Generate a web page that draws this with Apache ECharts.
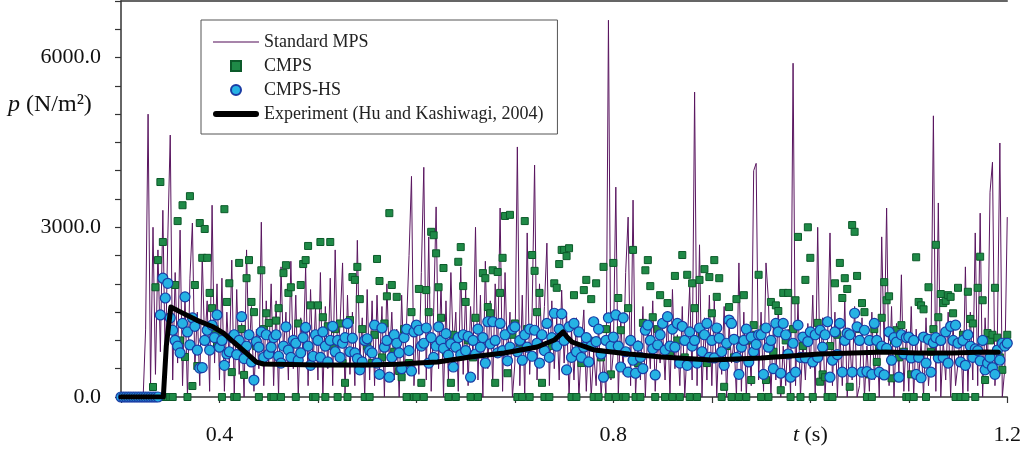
<!DOCTYPE html>
<html>
<head>
<meta charset="utf-8">
<script src="https://cdn.jsdelivr.net/npm/echarts@6/dist/echarts.min.js"></script>
<style>
  html, body { margin: 0; padding: 0; background: #fff; }
  #chart { width: 1024px; height: 452px; }
</style>
</head>
<body>
<div id="chart"></div>
<script>
// sampling of the simulated series: t = T0 + i * DT
const T0 = 0.3;
const DT = 0.0025;

// Standard MPS pressure (N/m2)
const mpsP = [
  0,0,0,0,0,0,0,0,0,0, 1200,5000,200,3000,400,2600,800,3300,500,2800,
  4630,300,2200,600,2950,200,1800,0,2100,3075, 500,1500,200,2500,900,1700,100,3390,600,2000,
  300,2100,100,1500,600,2420,0,1900,400,1300, 0,2600,700,1600,100,1200,500,3090,200,1700,
  600,2000,200,1700,0,2300,800,1500,300,2400, 500,1800,0,1400,700,2300,200,1900,500,1600,
  300,2200,0,1600,500,2100,200,2600,700,1300, 2370,0,1800,400,1500,200,2770,600,1400,0,
  1900,300,1700,200,1800,500,1600,0,2000,600, 1500,300,1200,0,1800,400,1300,2500,3900,200,
  1200,400,2200,4060,300,2830,100,1500,3360,500, 2000,0,1700,300,2200,800,1500,100,2300,400,
  1900,200,1600,700,3000,300,1800,0,2400,500, 1700,200,2000,700,3340,100,2200,600,1500,0,
  600,4420,200,1800,0,2900,400,1500,4100,300, 2000,800,1600,2720,200,1700,500,1400,300,1890,
  600,1500,0,1200,300,1400,0,900,1540,100, 1100,0,800,200,1300,0,700,0,6660,300,
  800,3710,0,1400,400,2200,3180,200,3480,0, 1000,300,1600,0,1300,500,1700,100,1000,600,
  1200,300,1500,0,1900,500,1100,200,1600,0, 900,1940,300,5390,200,2690,0,1400,300,1800,
  200,1700,0,1200,400,1600,0,1300,600,1000, 0,2370,100,1500,0,1200,200,4000,4130,300,
  1500,100,2370,1700,0,1300,300,1600,0,900, 200,1200,0,5900,200,1700,0,1000,300,1300,
  500,1800,0,3000,300,1400,0,1000,2900,200, 1500,0,1200,200,1700,0,1000,300,1600,0,
  200,1400,0,900,100,1500,300,1200,0,2830, 800,3340,200,1600,0,1300,400,2160,100,1200,
  100,1600,0,1200,300,1000,0,1400,200,800, 4970,100,3430,0,1000,300,1500,0,1300,200,
  600,1200,0,2300,100,1500,300,2900,200,3250, 0,1400,500,3620,4150,200,1100,4490,0,500,3180
];

// CMPS pressure (N/m2)
const cmpsP = [
  0,0,0,0,0,0,0,0,0,0, 0,0,0,177,1940,2420,3800,2740,0,0,
  0,0,1980,3110,1000,3390,707,0,3550,194, 1980,548,3075,2460,2970,2460,1840,1570,1200,900,
  1100,0,3320,1680,2010,440,0,0,2370,1200, 390,2100,2420,1680,1500,900,0,2240,1200,1480,
  1310,0,0,1350,1570,0,2190,2330,1840,1940, 1000,0,1300,1980,2350,2420,2670,1620,0,0,
  1620,2740,1410,0,1250,2740,900,1200,0,1300, 600,250,0,1360,2120,2070,2300,1730,1200,0,
  900,0,600,1100,2440,2050,700,1300,1780,3250, 1980,800,1770,460,350,1200,0,600,1500,0,
  0,1910,250,0,1890,1500,2920,2860,2540,1940, 1400,2280,800,0,250,1100,0,2390,2650,1960,
  1680,1000,0,700,1400,0,900,2190,2100,1590, 1480,2240,250,2210,1840,2460,3200,420,3220,1100,
  1300,0,900,0,3110,1200,0,2510,2230,1500, 1840,250,0,1300,0,900,2010,1930,2350,2600,
  2600,2490,2630,0,1800,0,1130,600,1890,2070, 1000,1730,0,2010,0,700,2300,1200,0,400,
  2370,0,1750,1180,0,0,1570,1000,2600,0, 600,0,1310,2240,2420,1960,1410,0,1200,1800,
  1300,0,1660,800,0,2140,1000,0,2510,700, 2160,0,2010,1570,0,2070,1100,2260,600,2120,
  1480,2420,1770,2100,0,180,900,1590,0,700, 1730,0,1000,1800,0,1000,300,1270,1100,2160,
  0,1200,300,0,1680,800,1620,1520,120,1840, 1000,1840,0,1200,1710,2830,0,900,2070,3000,
  2460,0,700,1310,270,400,350,0,900,0, 2010,1100,2370,1750,2100,1910,180,3040,2920,2140,
  1200,1660,1500,0,400,0,1200,620,900,1400, 2030,1710,1780,330,1000,1180,700,1270,800,0,
  0,400,0,2470,1680,1620,1550,0,1940,800, 1200,2690,1410,1820,1660,1700,1800,1770,1480,0,
  1930,0,1100,0,1860,1380,1300,0,1930,2480, 1710,300,1130,1000,1100,1930,1050,700,480,900,1100
];

// CMPS-HS pressure (N/m2)
const hsP = [
  0,0,0,0,0,0,0,0,0,0, 0,0,0,0,0,0,1450,2100,1750,2010,
  1400,1180,1000,900,780,1300,1770,1150,920,1400, 1250,830,510,520,1000,1180,830,1270,1050,1450,
  880,1000,560,760,800,1050,1100,750,1000,1420, 680,900,1100,620,300,980,880,1150,700,1100,
  760,880,1050,1100,720,600,900,1240,830,700, 1000,950,650,780,1050,1230,900,560,720,1100,
  1000,700,1150,900,620,1000,1250,800,1000,700, 950,1050,1300,800,1040,780,680,480,620,1000,
  1030,820,780,1270,600,400,1220,880,1000,350, 700,1100,950,780,500,1050,1200,820,460,1150,
  1270,1180,900,950,1220,600,1050,700,900,1240, 1000,860,1120,740,940,530,880,1050,750,1100,
  820,1070,350,1000,760,1200,880,1050,600,1330, 940,1330,1000,780,1300,820,1100,640,880,1200,
  1240,800,1000,650,1100,880,1200,720,1180,950, 600,1100,820,1300,700,1050,1480,900,1200,1470,
  1000,480,1240,700,1300,800,1150,700,880,1050, 620,900,1330,980,1200,760,350,1000,1400,900,
  1060,1450,900,530,1400,800,440,1000,650,420, 900,700,500,1180,1270,1000,850,390,920,1100,
  1300,830,1420,900,1200,880,1300,600,1250,1000, 560,1150,900,1000,600,1220,800,1100,1300,700,
  1000,690,1220,1040,800,560,950,1360,1300,1020, 700,400,880,1000,1200,620,1060,800,930,1100,
  1100,400,1220,880,1000,500,1300,1150,420,1300, 1100,760,350,950,440,1270,700,1060,690,980,
  1150,620,1100,700,1180,880,1100,1330,350,650, 1150,750,1300,440,1000,1130,1100,440,1480,1240,
  1000,440,1180,450,1000,400,1300,1000,440,900, 390,860,1150,650,1050,970,350,1100,760,1050,
  1060,690,1000,400,700,340,1060,600,1020,440, 960,1050,690,1000,700,1150,600,1250,1000,1270,
  950,620,1000,560,1100,900,700,850,820,640, 1000,480,600,700,520,400,830,650,950,900,950
];

// Experiment (Hu and Kashiwagi, 2004)
const expT = [0.300, 0.343, 0.346, 0.3506, 0.3607, 0.3768, 0.394, 0.4041, 0.4143, 0.4274,
  0.4375, 0.4446, 0.50, 0.55, 0.581, 0.601, 0.6215, 0.655, 0.689, 0.7226, 0.74, 0.749,
  0.753, 0.758, 0.781, 0.8157, 0.849, 0.8996, 0.950, 0.980, 1.009, 1.043, 1.0766, 1.11,
  1.144, 1.178, 1.191];
const expP = [0, 0, 900, 1590, 1500, 1360, 1237, 1131, 972, 777,
  618, 583, 565, 565, 580, 600, 620, 707, 777, 883, 1007, 1150,
  1060, 972, 830, 760, 707, 654, 689, 724, 760, 777, 795, 777,
  777, 795, 790];

const xLabelTicks = [0.4, 0.8, 1.2];
const xNameTick = 1.0;
const yLabelTicks = [0, 3000, 6000];

const FONT = "'Liberation Serif', 'Times New Roman', serif";

function pairs(vals) {
  return vals.map(function (v, i) { return [T0 + DT * i, v]; });
}
function near(a, b) { return Math.abs(a - b) < 1e-6; }

const chart = echarts.init(document.getElementById("chart"), null, { renderer: "canvas" });

const option = {
  animation: false,
  backgroundColor: "#fff",
  grid: { left: 121, right: 12, top: 1, bottom: 55 },
  legend: {
    orient: "vertical",
    left: 201,
    top: 20,
    padding: [13, 14, 11, 12],
    itemGap: 6,
    itemWidth: 46,
    itemHeight: 10,
    backgroundColor: "#fff",
    borderColor: "#555",
    borderWidth: 1,
    borderRadius: 0,
    textStyle: { fontFamily: FONT, fontSize: 18, color: "#222" },
    data: [
      { name: "Standard MPS", icon: "path://M0,0H46V1.6H0Z",
        itemStyle: { color: "#8a5b8e" } },
      { name: "CMPS", icon: "path://M0,0H10V10H0Z" },
      { name: "CMPS-HS", icon: "circle" },
      { name: "Experiment (Hu and Kashiwagi, 2004)",
        icon: "path://M3,0H43A3,3 0 0 1 43,6H3A3,3 0 0 1 3,0Z" }
    ]
  },
  xAxis: [
    {
      type: "value",
      min: 0.3,
      max: 1.2,
      interval: 0.1,
      splitLine: { show: false },
      axisLine: { show: true, onZero: false, lineStyle: { color: "#333", width: 1.5 } },
      axisTick: { show: true, inside: false, length: 6, lineStyle: { color: "#333", width: 1.2 } },
      axisLabel: {
        margin: 27,
        fontFamily: FONT,
        fontSize: 22,
        color: "#111",
        formatter: function (v) {
          for (const t of xLabelTicks) if (near(v, t)) return t.toFixed(1);
          if (near(v, xNameTick)) return "{i|t} (s)";
          return "";
        },
        rich: { i: { fontStyle: "italic", fontFamily: FONT, fontSize: 22, color: "#111" } }
      }
    },
    {
      type: "value",
      position: "top",
      min: 0.3,
      max: 1.2,
      axisLine: { show: true, onZero: false, lineStyle: { color: "#333", width: 1.5 } },
      axisTick: { show: false },
      axisLabel: { show: false },
      splitLine: { show: false }
    }
  ],
  yAxis: {
    type: "value",
    min: 0,
    max: 7000,
    interval: 500,
    splitLine: { show: false },
    axisLine: { show: true, onZero: false, lineStyle: { color: "#333", width: 1.5 } },
    axisTick: { show: true, inside: false, length: 6, lineStyle: { color: "#333", width: 1.2 } },
    axisLabel: {
      margin: 20,
      fontFamily: FONT,
      fontSize: 22,
      color: "#111",
      formatter: function (v) {
        for (const t of yLabelTicks) if (near(v, t)) return t.toFixed(1);
        return "";
      }
    }
  },
  graphic: [
    {
      type: "text",
      left: 8,
      top: 93,
      style: {
        text: "{i|p} (N/m²)",
        fontFamily: FONT,
        fontSize: 24,
        fill: "#111",
        rich: { i: { fontStyle: "italic", fontFamily: FONT, fontSize: 24, fill: "#111" } }
      }
    }
  ],
  series: [
    {
      name: "Standard MPS",
      type: "line",
      data: pairs(mpsP),
      showSymbol: false,
      symbol: "none",
      z: 2,
      lineStyle: { color: "#5a1660", width: 1 },
      itemStyle: { color: "#5a1660" }
    },
    {
      name: "CMPS",
      type: "scatter",
      data: pairs(cmpsP),
      symbol: "rect",
      symbolSize: 7,
      z: 3,
      itemStyle: { color: "#1f8a47", borderColor: "#0c5a2a", borderWidth: 1, opacity: 1 }
    },
    {
      name: "CMPS-HS",
      type: "scatter",
      data: pairs(hsP),
      symbol: "circle",
      symbolSize: 10,
      z: 4,
      itemStyle: { color: "#26b2e4", borderColor: "#1a3ca4", borderWidth: 1.2, opacity: 1 }
    },
    {
      name: "Experiment (Hu and Kashiwagi, 2004)",
      type: "line",
      data: expT.map(function (t, i) { return [t, expP[i]]; }),
      showSymbol: false,
      symbol: "none",
      z: 5,
      lineStyle: { color: "#000", width: 5, cap: "round", join: "round" },
      itemStyle: { color: "#000" }
    }
  ]
};

chart.setOption(option);
</script>
</body>
</html>
